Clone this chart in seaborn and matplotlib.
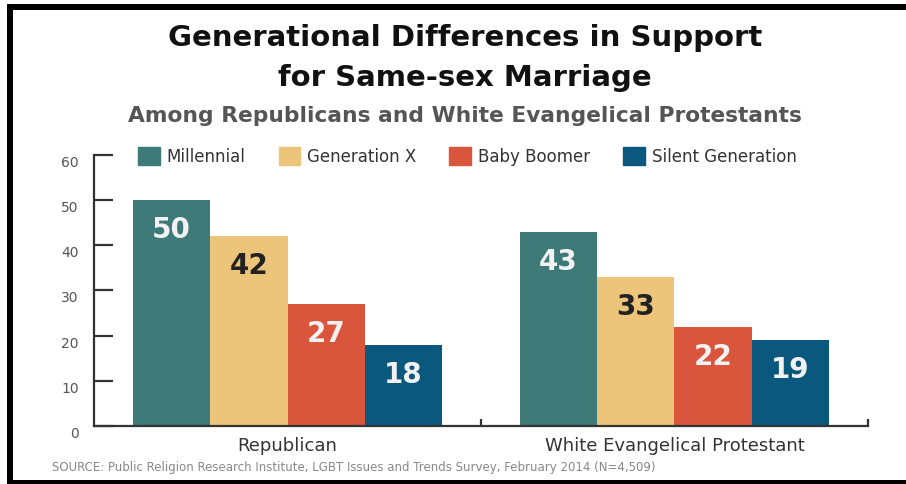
import pandas as pd
import matplotlib.pyplot as plt
import seaborn as sns
from matplotlib.patches import Rectangle, Patch

# --- Data ---
groups = ["Republican", "White Evangelical Protestant"]
generations = ["Millennial", "Generation X", "Baby Boomer", "Silent Generation"]
republican = [50, 42, 27, 18]
evangelical = [43, 33, 22, 19]

colors = ["#3D7A78", "#ECC47A", "#D9553B", "#0B587F"]
label_colors = ["#F2F2F2", "#222222", "#F2F2F2", "#F2F2F2"]

rows = []
for g, vals in zip(groups, [republican, evangelical]):
    for gen, v in zip(generations, vals):
        rows.append({"group": g, "generation": gen, "value": v})
df = pd.DataFrame(rows)

# --- Plot ---
sns.set_style("white")
plt.rcParams["font.family"] = ["DejaVu Sans"]

fig = plt.figure(figsize=(9.06, 4.85), dpi=100)
ax = fig.add_axes([0.1038, 0.1196, 0.8542, 0.5588])

sns.barplot(data=df, x="group", y="value", hue="generation", order=groups,
            hue_order=generations, palette=colors, saturation=1, width=0.8,
            linewidth=0, ax=ax, legend=False)

ax.set_xlim(-0.5, 1.5)
ax.set_ylim(0, 60)
ax.set_yticks(range(0, 61, 10))
ax.set_xlabel("")
ax.set_ylabel("")

for s in ["top", "right"]:
    ax.spines[s].set_visible(False)
for s in ["left", "bottom"]:
    ax.spines[s].set_color("#333333")
    ax.spines[s].set_linewidth(1.6)

ax.tick_params(axis="y", left=True, direction="in", length=14, width=1.6,
               color="#333333", pad=11, labelsize=10, labelcolor="#555555")
for lbl in ax.get_yticklabels():
    lbl.set_va("top")
ax.tick_params(axis="x", which="major", bottom=False, length=0, pad=7,
               labelsize=13, labelcolor="#333333")
ax.set_xticks([0.5, 1.5], minor=True)
ax.tick_params(axis="x", which="minor", bottom=True, direction="in", length=5,
               width=1.6, color="#333333")

# value labels inside bars
for cont, lc in zip(ax.containers, label_colors):
    for bar in cont:
        h = bar.get_height()
        ax.annotate(f"{h:.0f}", (bar.get_x() + bar.get_width() / 2, h),
                    xytext=(0, -21), textcoords="offset points",
                    ha="center", va="center", fontsize=20, fontweight="bold",
                    color=lc)

# legend
handles = [Patch(facecolor=c, edgecolor=c, label=l) for c, l in zip(colors, generations)]
fig.legend(handles=handles, loc="center left", bbox_to_anchor=(0.145, 0.676),
           ncol=4, frameon=False, fontsize=12, labelcolor="#333333",
           handlelength=1.3, handleheight=1.3, handletextpad=0.4,
           columnspacing=2.0, borderaxespad=0)

# titles
fig.text(0.513, 0.922, "Generational Differences in Support", ha="center",
         va="center", fontsize=21, fontweight="bold", color="#111111")
fig.text(0.513, 0.839, "for Same-sex Marriage", ha="center", va="center",
         fontsize=21, fontweight="bold", color="#111111")
fig.text(0.513, 0.761, "Among Republicans and White Evangelical Protestants",
         ha="center", va="center", fontsize=15.7, fontweight="bold", color="#555555")

fig.text(0.057, 0.037, "SOURCE: Public Religion Research Institute, LGBT Issues and "
         "Trends Survey, February 2014 (N=4,509)", ha="left", va="center",
         fontsize=8.5, color="#888888")

# black frame pieces
fig.patches.append(Rectangle((7 / 906, 1 - 11 / 485), 1, 6 / 485, transform=fig.transFigure,
                             facecolor="black", edgecolor="none"))
fig.patches.append(Rectangle((7 / 906, 0), 6 / 906, 1 - 5 / 485, transform=fig.transFigure,
                             facecolor="black", edgecolor="none"))
fig.patches.append(Rectangle((7 / 906, 0), 1, 4 / 485, transform=fig.transFigure,
                             facecolor="black", edgecolor="none"))

fig.savefig("out.png", dpi=100)
